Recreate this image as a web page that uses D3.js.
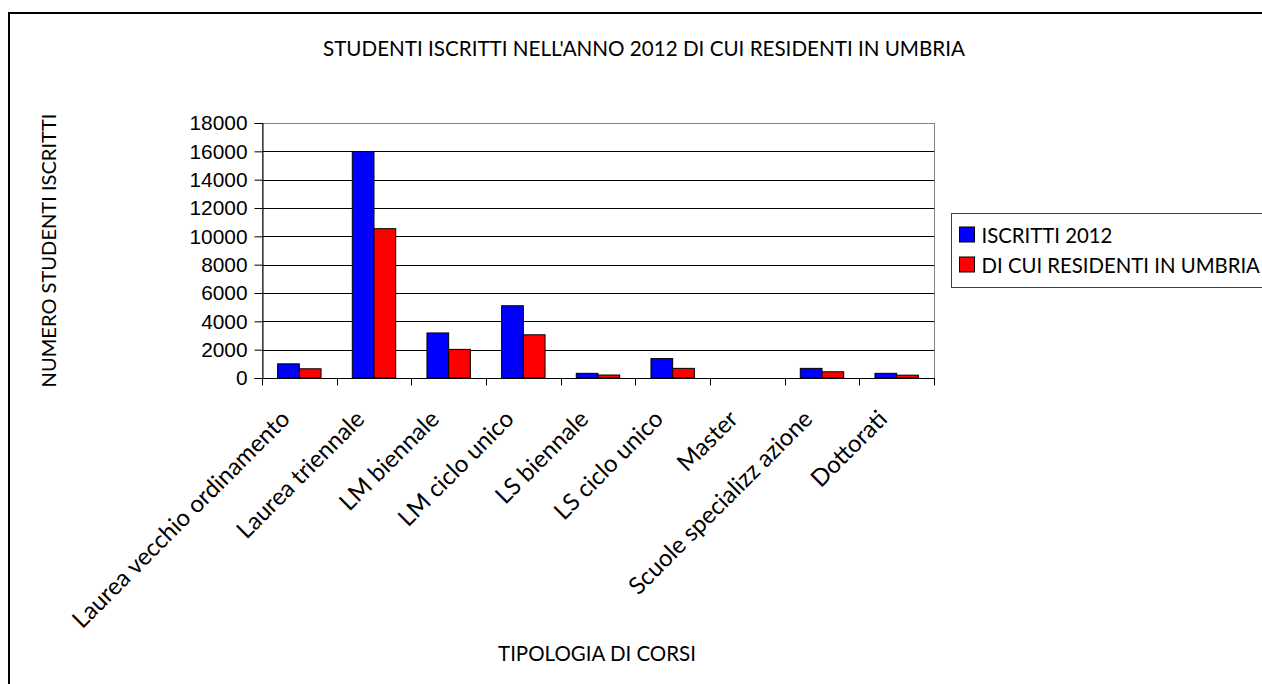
<!DOCTYPE html>
<html>
<head>
<meta charset="utf-8">
<script src="https://cdn.jsdelivr.net/npm/d3@7"></script>
<style>
  body { margin: 0; background: #fff; }
  svg { display: block; font-family: Lato, "Open Sans", sans-serif; }
</style>
</head>
<body>
<div id="chart"></div>
<script>
// chart data
var categories = ["Laurea vecchio ordinamento", "Laurea triennale", "LM biennale", "LM ciclo unico",
  "LS biennale", "LS ciclo unico", "Master", "Scuole specializz azione", "Dottorati"];
var seriesNames = ["ISCRITTI 2012", "DI CUI RESIDENTI IN UMBRIA"];
var iscritti = [1000, 15980, 3180, 5100, 330, 1370, 0, 680, 330];
var residenti = [650, 10540, 2020, 3050, 210, 680, 0, 440, 200];
var yTicks = [0, 2000, 4000, 6000, 8000, 10000, 12000, 14000, 16000, 18000];
var colors = ["#0000ff", "#ff0000"];

// set the dimensions of the plot area
var W = 1262, H = 684;
var plot = {left: 262, right: 934, top: 123, bottom: 378};

var svg = d3.select("#chart")
  .append("svg")
  .attr("width", W)
  .attr("height", H);

// fit the font size of a text so it gets the wanted length
function fitText(sel, len) {
  var size = 20;
  sel.style("font-size", size + "px");
  var w = sel.node().getComputedTextLength();
  size = size * len / w;
  sel.style("font-size", size + "px");
  return size;
}

// outer frame (only left and top edge are visible)
svg.append("rect")
  .attr("x", 9)
  .attr("y", 13)
  .attr("width", W + 20)
  .attr("height", H + 20)
  .attr("fill", "none")
  .attr("stroke", "#000")
  .attr("stroke-width", 2);

// set the ranges
var x0 = d3.scaleBand()
  .domain(categories)
  .range([plot.left, plot.right]);

var x1 = d3.scaleBand()
  .domain([0, 1])
  .range([0, x0.bandwidth()])
  .paddingOuter(0.72);

var y = d3.scaleLinear()
  .domain([0, 18000])
  .range([plot.bottom, plot.top]);

// gridlines
svg.append("g")
  .selectAll("line")
  .data(yTicks.slice(1, -1))
  .enter()
  .append("line")
  .attr("x1", plot.left)
  .attr("x2", plot.right)
  .attr("y1", function(d) { return Math.round(y(d)) + 0.5; })
  .attr("y2", function(d) { return Math.round(y(d)) + 0.5; })
  .attr("stroke", "#000")
  .attr("stroke-width", 1);

// plot area border
svg.append("rect")
  .attr("x", plot.left + 0.5)
  .attr("y", plot.top + 0.5)
  .attr("width", plot.right - plot.left)
  .attr("height", plot.bottom - plot.top)
  .attr("fill", "none")
  .attr("stroke", "#808080");

// bars
var rows = categories.map(function(c, i) {
  return {cat: c, values: [iscritti[i], residenti[i]]};
});

svg.append("g")
  .selectAll("g")
  .data(rows)
  .enter()
  .append("g")
  .attr("transform", function(d) { return "translate(" + x0(d.cat) + ",0)"; })
  .selectAll("rect")
  .data(function(d) { return d.values; })
  .enter()
  .append("rect")
  .attr("x", function(d, i) { return x1(i); })
  .attr("y", function(d) { return y(d); })
  .attr("width", x1.bandwidth())
  .attr("height", function(d) { return y(0) - y(d); })
  .attr("fill", function(d, i) { return colors[i]; })
  .attr("stroke", "#000")
  .attr("stroke-width", 1);

// y axis
var yAxis = svg.append("g")
  .attr("transform", "translate(" + (plot.left + 0.5) + ",0)")
  .call(d3.axisLeft(y).tickValues(yTicks).tickSize(8).tickPadding(7).tickFormat(d3.format("d")));
yAxis.select(".domain").attr("stroke", "#000");
yAxis.selectAll(".tick line").attr("stroke", "#000");
var yTickText = yAxis.selectAll(".tick text")
  .attr("fill", "#000")
  .attr("font-family", null);
var ySize = fitText(yAxis.selectAll(".tick text").filter(function(d) { return d == 18000; }), 58);
yTickText.style("font-size", ySize + "px");

// x axis: ticks on category borders
var xAxis = svg.append("g")
  .attr("transform", "translate(0," + (plot.bottom + 0.5) + ")");
xAxis.append("line")
  .attr("x1", plot.left)
  .attr("x2", plot.right + 1)
  .attr("stroke", "#000");
xAxis.selectAll(".xtick")
  .data(categories.concat(["end"]))
  .enter()
  .append("line")
  .attr("class", "xtick")
  .attr("x1", function(d) { return d == "end" ? plot.right + 0.5 : Math.round(x0(d)) + 0.5; })
  .attr("x2", function(d) { return d == "end" ? plot.right + 0.5 : Math.round(x0(d)) + 0.5; })
  .attr("y2", 7)
  .attr("stroke", "#000");

var xLabels = xAxis.selectAll(".xlabel")
  .data(categories)
  .enter()
  .append("text")
  .attr("class", "xlabel")
  .attr("text-anchor", "end")
  .attr("transform", function(d) {
    return "translate(" + (x0(d) + x0.bandwidth() / 2 - 8) + ",42) rotate(-45)";
  })
  .text(function(d) { return d; });
var xSize = fitText(xLabels.filter(function(d) { return d == "Laurea triennale"; }), 169);
xLabels.style("font-size", xSize + "px");

// title
var title = svg.append("text")
  .attr("x", 644)
  .attr("y", 56)
  .attr("text-anchor", "middle")
  .text("STUDENTI ISCRITTI NELL'ANNO 2012 DI CUI RESIDENTI IN UMBRIA");
fitText(title, 642);

// axis titles
var yTitle = svg.append("text")
  .attr("transform", "translate(56," + ((plot.top + plot.bottom) / 2) + ") rotate(-90)")
  .attr("text-anchor", "middle")
  .text("NUMERO STUDENTI ISCRITTI");
fitText(yTitle, 274);

var xTitle = svg.append("text")
  .attr("x", 597)
  .attr("y", 661)
  .attr("text-anchor", "middle")
  .text("TIPOLOGIA DI CORSI");
fitText(xTitle, 198);

// legend
var legend = svg.append("g")
  .attr("transform", "translate(951.5,213.5)");
legend.append("rect")
  .attr("width", 400)
  .attr("height", 74)
  .attr("fill", "#fff")
  .attr("stroke", "#404040");

var legendItems = legend.selectAll(".item")
  .data(seriesNames)
  .enter()
  .append("g")
  .attr("class", "item")
  .attr("transform", function(d, i) { return "translate(8," + (13.5 + i * 30) + ")"; });
legendItems.append("rect")
  .attr("width", 15)
  .attr("height", 15)
  .attr("fill", function(d, i) { return colors[i]; })
  .attr("stroke", "#000");
var legendText = legendItems.append("text")
  .attr("x", 22)
  .attr("y", 16)
  .text(function(d) { return d; });
var lSize = fitText(legendText.filter(function(d, i) { return i == 0; }), 131);
legendText.style("font-size", lSize + "px");
</script>
</body>
</html>
